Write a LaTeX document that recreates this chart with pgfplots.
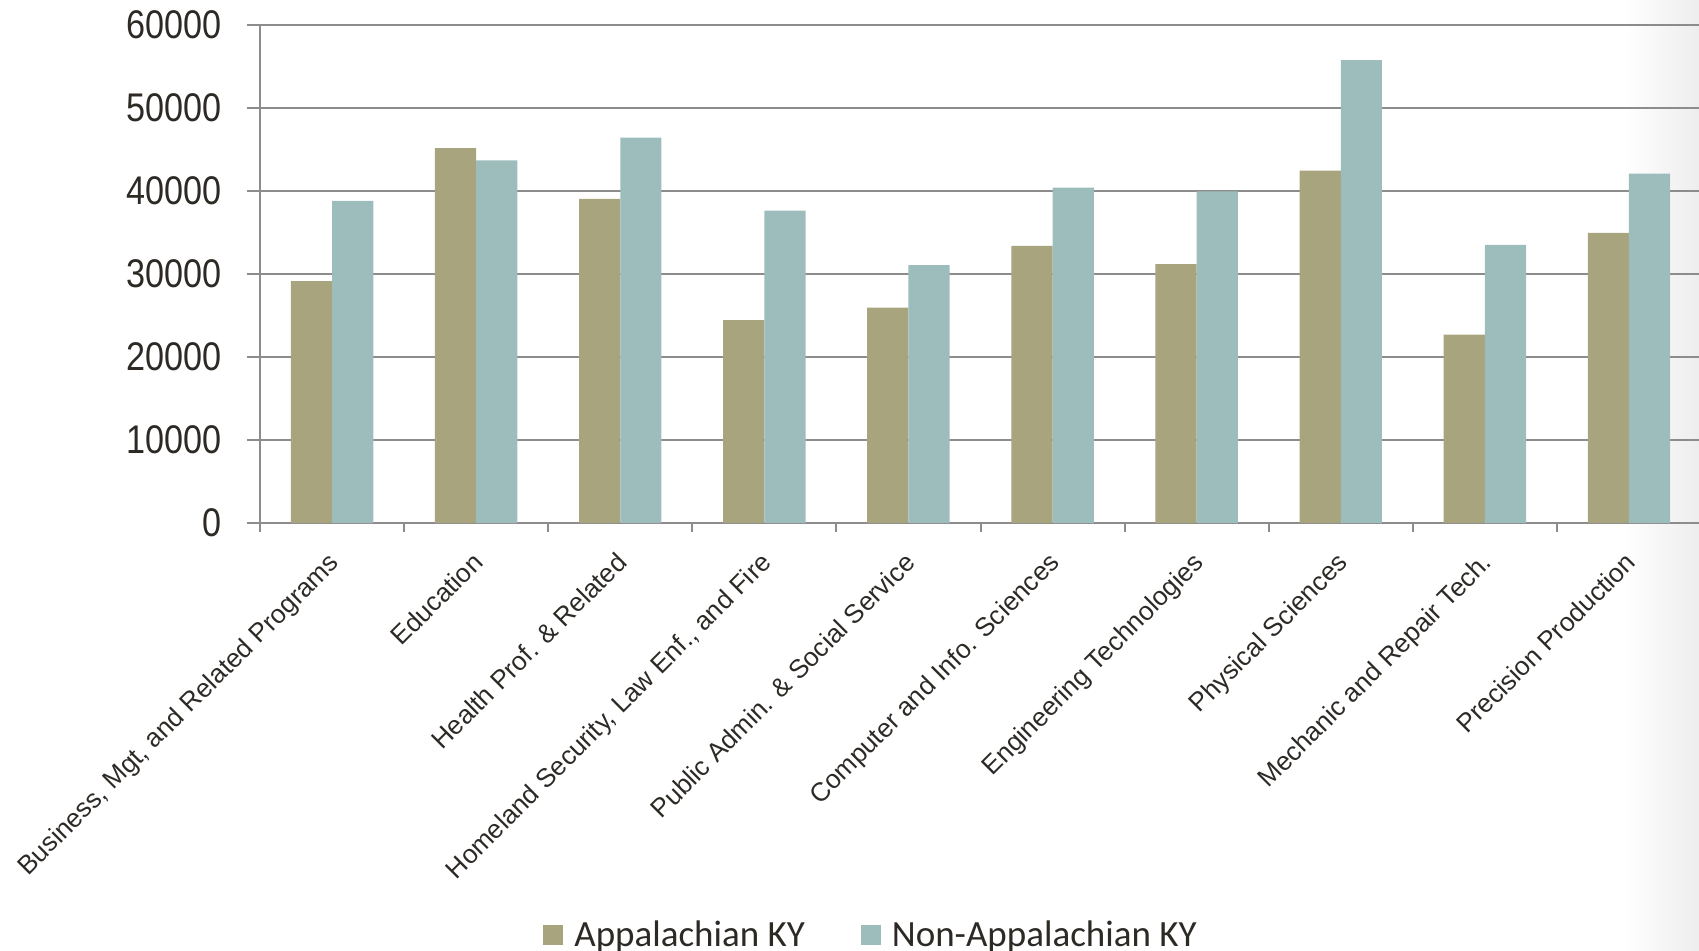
\documentclass[border=0pt]{standalone}
\usepackage{pgfplots}
\pgfplotsset{compat=1.18}
\usepackage{fontspec}
\setmainfont{Liberation Sans}
\newfontfamily\tickfont{Liberation Sans}[FakeStretch=0.855]
\newfontfamily\legfont{Carlito}
\definecolor{appc}{RGB}{168,165,126}
\definecolor{nonc}{RGB}{157,189,188}
\definecolor{gridc}{RGB}{140,140,140}
\definecolor{txtc}{RGB}{45,42,38}
\begin{document}
\begin{tikzpicture}
\path[use as bounding box] (0,0) rectangle (849.5pt,475pt);
\shade[left color=white, right color=black!7] (812pt,0) rectangle (849.5pt,475pt);
\begin{axis}[
  at={(130pt,213.5pt)}, anchor=south west,
  scale only axis, width=720.5pt, height=249pt,
  ybar=0pt, bar width=0.286,
  xmin=-0.5, xmax=9.5, ymin=0, ymax=60000,
  ytick={0,10000,...,60000},
  scaled y ticks=false,
  /pgf/number format/assume math mode=true,
  yticklabel={\pgfmathprintnumber[fixed,precision=0,1000 sep={}]{\tick}},
  yticklabel style={font=\tickfont\fontsize{20}{24}\selectfont, text=txtc, anchor=east, xshift=-9pt},
  xtick={0,...,9},
  xticklabels={{Business, Mgt, and Related Programs},{Education},{Health Prof. \& Related},{Homeland Security, Law Enf., and Fire},{Public Admin. \& Social Service},{Computer and Info. Sciences},{Engineering Technologies},{Physical Sciences},{Mechanic and Repair Tech.},{Precision Production}},
  xticklabel style={rotate=45, anchor=north east, inner sep=0pt, font=\fontsize{13.1}{16}\selectfont, text=txtc, xshift=-6.93pt, yshift=-3.25pt},
  minor xtick={-0.5,0.5,...,9.5},
  major x tick style={draw=none},
  tick align=outside,
  major tick length=6.5pt, minor tick length=4.5pt,
  every tick/.style={gridc, line width=1pt},
  axis x line*=bottom, axis y line*=left,
  axis line style={gridc, line width=1pt, -},
  ymajorgrids, grid style={gridc, line width=1pt},
  legend columns=2,
  legend style={at={(0.4247,-0.828)}, anchor=center, draw=none, fill=none,
    font=\legfont\fontsize{18.5}{22}\selectfont, text=txtc,
    /tikz/every even column/.append style={column sep=26pt}},
  legend image code/.code={\fill[#1] (0pt,-5pt) rectangle (10pt,5pt); \path (13.5pt,0pt);},
  clip=false,
]
\addplot[fill=appc, draw=none, bar shift=-0.143] coordinates {
(0,29150) (1,45160) (2,39040) (3,24450) (4,25950) (5,33390) (6,31190) (7,42450) (8,22700) (9,34970)};
\addplot[fill=nonc, draw=none, bar shift=0.143] coordinates {
(0,38800) (1,43700) (2,46440) (3,37630) (4,31060) (5,40420) (6,39960) (7,55760) (8,33510) (9,42080)};
\legend{Appalachian KY, Non-Appalachian KY}
\end{axis}
\end{tikzpicture}
\end{document}
